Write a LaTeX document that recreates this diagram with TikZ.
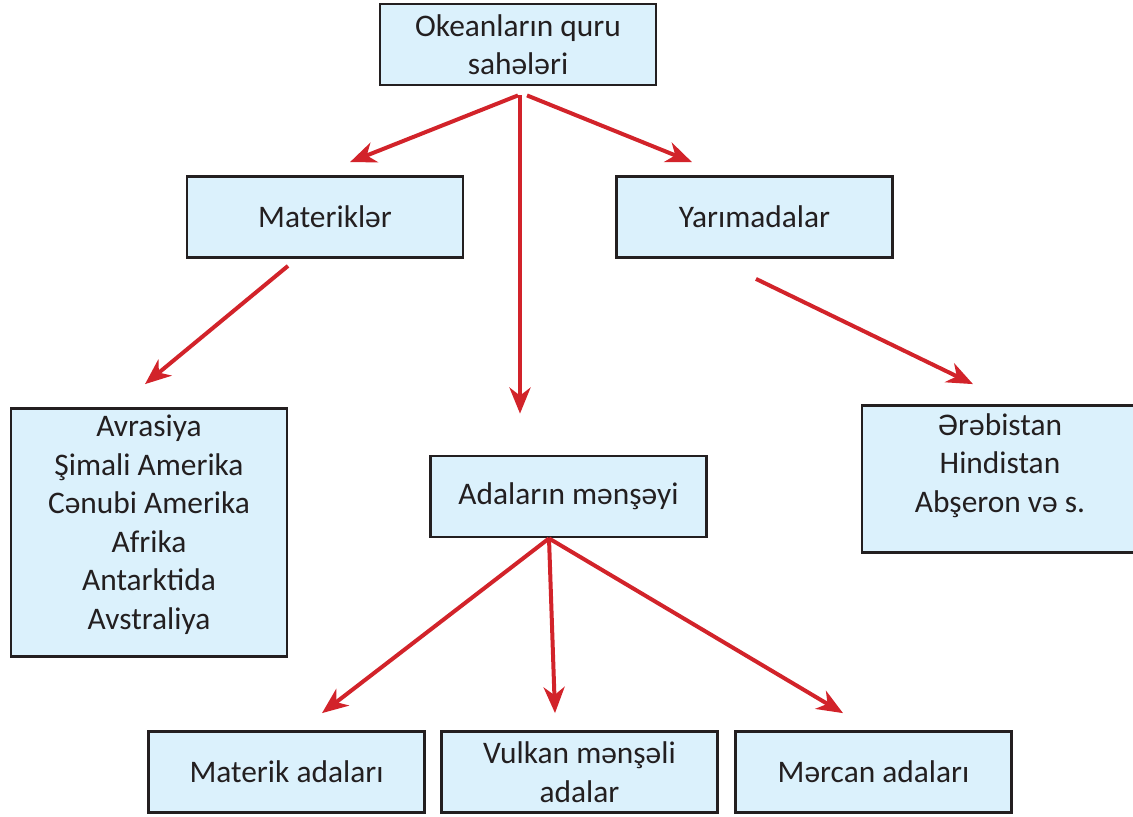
\documentclass[tikz,border=0pt]{standalone}
\usepackage{fontspec}
\setmainfont{Carlito}
\usetikzlibrary{arrows.meta,positioning,calc}
\definecolor{boxfill}{HTML}{DBF1FC}
\definecolor{boxline}{HTML}{231F20}
\definecolor{arrowred}{HTML}{D2232A}

\begin{document}
\begin{tikzpicture}[x=0.5pt, y=-0.5pt, >={Stealth[length=13pt, width=10.5pt, inset=4pt]},
  box/.style={draw=boxline, fill=boxfill, line width=1.4pt, minimum width=138pt, minimum height=40.5pt,
    inner sep=2pt, align=center, text=boxline, font=\fontsize{15.7}{19.25}\selectfont},
  arrow/.style={->, draw=arrowred, fill=arrowred, line width=2pt}]
  \useasboundingbox (0,0) rectangle (1133,816);
  \node[box] (okean) at (518,44.5) {Okeanların quru\\sahələri};
  \node[box] (materikler) at (325,217) {Materiklər};
  \node[box] (yarimada) at (754.5,217) {Yarımadalar};
  \node[box, minimum height=124pt, text depth=10.5pt] (materiklist) at (149,532.5)
    {Avrasiya\\Şimali Amerika\\Cənubi Amerika\\Afrika\\Antarktida\\Avstraliya};
  \node[box] (adalar) at (568.5,496.5) {Adaların mənşəyi};
  \node[box, minimum height=73.5pt, text depth=16pt] (yarimlist) at (1000,479)
    {Ərəbistan\\Hindistan\\Abşeron və s.};
  \node[box] (materikada) at (286.5,772) {Materik adaları};
  \node[box] (vulkan) at (579.5,772) {Vulkan mənşəli\\adalar};
  \node[box] (mercan) at (873.5,772) {Mərcan adaları};

  \draw[arrow] ($(okean.south)+(0,9)$) -- ($(materikler.north)+(25,-13)$);
  \draw[arrow] ($(okean.south)+(2,9)$) -- ($(adalar.north)+(-48.5,-41)$);
  \draw[arrow] ($(okean.south)+(9,9)$) -- ($(yarimada.north)+(-62.5,-13)$);
  \draw[arrow] ($(materikler.south)+(-37,7)$) -- ($(materiklist.north)+(-4,-23)$);
  \draw[arrow] ($(yarimada.south)+(1.5,20)$) -- ($(yarimlist.north)+(-27,-20)$);
  \draw[arrow] ($(adalar.south)+(-19.5,0)$) -- ($(materikada.north)+(35.5,-17)$);
  \draw[arrow] ($(adalar.south)+(-19.5,0)$) -- ($(vulkan.north)+(-24.5,-17)$);
  \draw[arrow] ($(adalar.south)+(-19.5,0)$) -- ($(mercan.north)+(-30.5,-17)$);
\end{tikzpicture}
\end{document}
